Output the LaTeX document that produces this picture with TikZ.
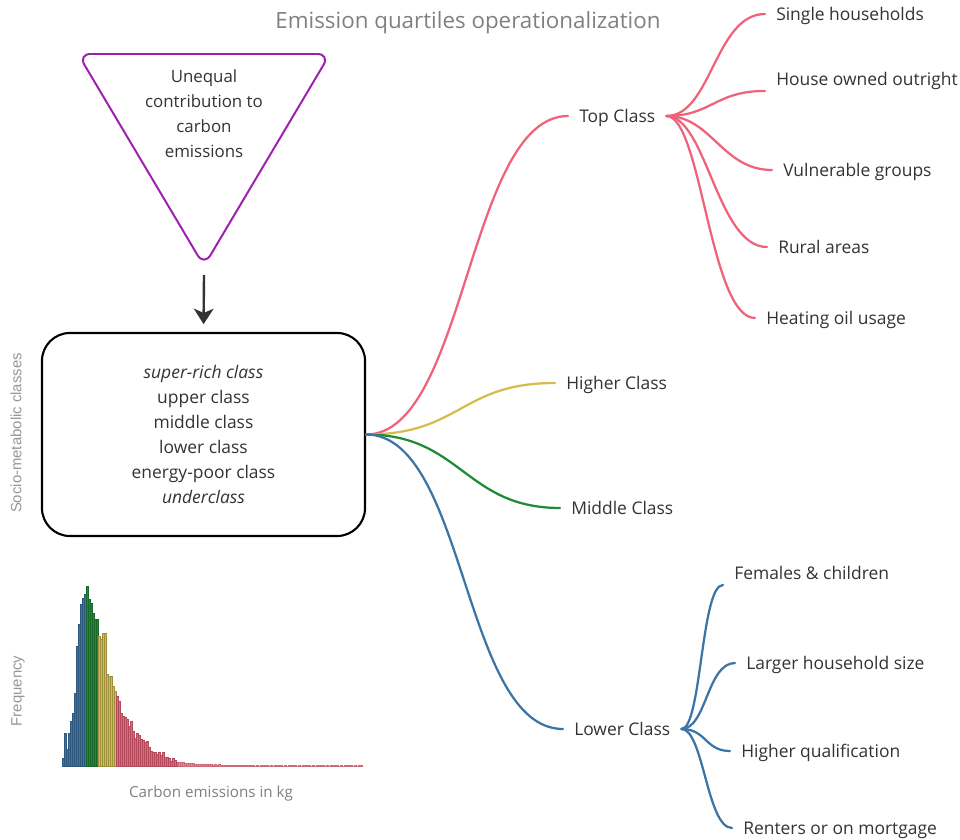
\documentclass[tikz,border=0pt]{standalone}
\usepackage{fontspec}
\setmainfont{Open Sans}
\newfontfamily\labelfont{Liberation Sans}
\usepackage{xcolor}
\usetikzlibrary{calc, positioning, arrows.meta}

\definecolor{txt}{RGB}{51,51,51}
\definecolor{titlegray}{RGB}{128,128,128}
\definecolor{axisgray}{RGB}{150,150,150}
\definecolor{topc}{RGB}{240,98,121}
\definecolor{highc}{RGB}{212,189,78}
\definecolor{midc}{RGB}{31,138,56}
\definecolor{lowc}{RGB}{58,117,166}
\definecolor{trip}{RGB}{156,31,173}

\tikzset{
  branch/.style={anchor=west, inner xsep=7.8pt, inner ysep=2pt, text=txt,
    text height=9pt, text depth=0pt, font=\fontsize{12.4}{15}\selectfont},
  twig/.style={line width=1.6pt, line cap=round},
  bar/.style={line width=0.2pt},
}

\begin{document}
\begin{tikzpicture}[>=latex, x=0.025cm, y=-0.025cm]
    \useasboundingbox (0,0) rectangle (960,840);

    % 1. Tiêu đề
    \node[text=titlegray, font=\fontsize{15.9}{18}\selectfont] (title) at (468,23)
        {Emission quartiles operationalization};

    % 2. Tam giác và hộp
    \draw[trip, line width=1.4pt, rounded corners=9pt] (78,54) -- (330,54) -- (204,266) -- cycle;
    \node[text=txt, align=center, font=\fontsize{12}{17.7}\selectfont] (tri) at (204,114)
        {Unequal\\contribution to\\carbon\\emissions};
    \coordinate (tip) at (204,275);
    \node[draw, line width=1.5pt, rounded corners=0.7cm, minimum width=8.075cm,
        minimum height=5.075cm, text=txt, align=center,
        font=\fontsize{12.4}{17.7}\selectfont] (box) at (203.5,434.5)
        {\textit{super-rich class}\\upper class\\middle class\\lower class\\
         energy-poor class\\\textit{underclass}};
    \draw[-{Stealth[length=11pt, width=14pt, inset=3pt]}, txt, line width=1.7pt,
        shorten >=5.5pt] (tip) -- (box.north);
    \node[rotate=90, text=axisgray, font=\labelfont\fontsize{10.6}{12}\selectfont] (side)
        at (16,433) {Socio-metabolic classes};

    % 3. Biểu đồ tần suất
    \foreach \h [count=\i from 0] in {8,33,17,33,45,53,73,120,142,162,168,172}
        \draw[bar, fill=lowc, draw=lowc!75!black] (62+2*\i,766) rectangle ++(2,-\h);
    \foreach \h [count=\i from 12] in {180,167,163,153,147,147}
        \draw[bar, fill=midc, draw=midc!75!black] (62+2*\i,766) rectangle ++(2,-\h);
    \foreach \h [count=\i from 18] in {130,127,133,133,92,90,90,80,75}
        \draw[bar, fill=highc, draw=highc!75!black] (62+2*\i,766) rectangle ++(2,-\h);
    \foreach \h [count=\i from 27] in {70,65,53,50,49,47,40,45,35,28,33,31,27,26,24,25,19,
        15,14,14,12,14,11,14,9,9,8,5,8,6,4}
        \draw[bar, fill=topc, draw=topc!75!black] (62+2*\i,766) rectangle ++(2,-\h);
    \foreach \i in {58,...,149}
        \draw[bar, fill=topc!80!white, draw=topc!70!gray] (62+2*\i,766)
            rectangle ++(2,{-max(0.3,3.5*exp(-(\i-57)/14)+0.7*abs(sin(\i*77)))});
    \node[rotate=90, text=axisgray, font=\labelfont\fontsize{10.6}{12}\selectfont] (freq)
        at (18,691) {Frequency};
    \node[text=titlegray, font=\fontsize{10.8}{13}\selectfont] (xlab) at (211,794)
        {Carbon emissions in kg};

    % 4. Các nhánh chính
    \node[branch] (top) at (568,116) {Top Class};
    \node[branch] (high) at (555,383) {Higher Class};
    \node[branch] (mid) at (560,508) {Middle Class};
    \node[branch] (low) at (563,729) {Lower Class};
    \draw[twig, topc] (box.east) .. controls +(100,0) and +(-100,0) .. (top.west);
    \draw[twig, highc] (box.east) .. controls +(95,0) and +(-95,0) .. (high.west);
    \draw[twig, midc] (box.east) .. controls +(95,0) and +(-95,0) .. (mid.west);
    \draw[twig, lowc] (box.east) .. controls +(100,0) and +(-100,0) .. (low.west);

    % 5. Nhánh con của Top Class
    \node[branch] (single) at (765,14) {Single households};
    \node[branch] (owned) at (765,79) {House owned outright};
    \node[branch] (vuln) at (772,170) {Vulnerable groups};
    \node[branch] (rural) at (767,247) {Rural areas};
    \node[branch] (oil) at (755,318) {Heating oil usage};
    \draw[twig, topc] (top.east) .. controls +(45,0) and +(-50,0) .. (single.west);
    \draw[twig, topc] (top.east) .. controls +(45,0) and +(-50,0) .. ([yshift=-8.5pt]owned.west);
    \draw[twig, topc] (top.east) .. controls +(45,0) and +(-50,0) .. (vuln.west);
    \draw[twig, topc] (top.east) .. controls +(40,0) and +(-50,0) .. (rural.west);
    \draw[twig, topc] (top.east) .. controls +(35,0) and +(-45,0) .. (oil.west);

    % 6. Nhánh con của Lower Class
    \node[branch] (fem) at (723,573) {Females \& children};
    \node[branch] (larger) at (735,663) {Larger household size};
    \node[branch] (qual) at (730,751) {Higher qualification};
    \node[branch] (rent) at (732,828) {Renters or on mortgage};
    \draw[twig, lowc] (low.east) .. controls +(20,0) and +(-22,0) .. ([yshift=-8.5pt]fem.west);
    \draw[twig, lowc] (low.east) .. controls +(25,0) and +(-28,0) .. (larger.west);
    \draw[twig, lowc] (low.east) .. controls +(25,0) and +(-25,0) .. (qual.west);
    \draw[twig, lowc] (low.east) .. controls +(22,0) and +(-25,0) .. (rent.west);
\end{tikzpicture}
\end{document}
